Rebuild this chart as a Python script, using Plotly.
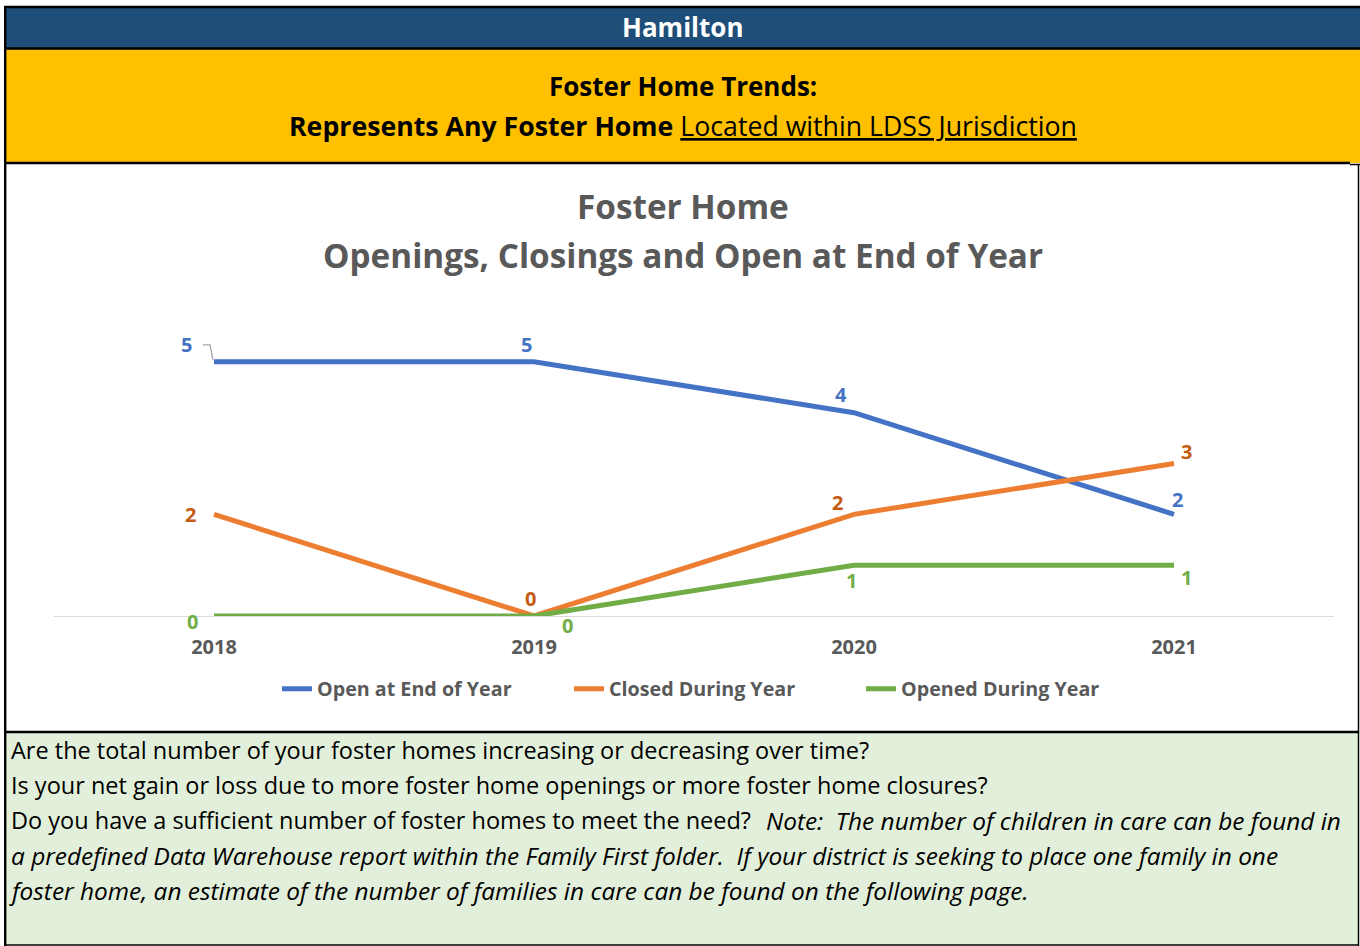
import plotly.graph_objects as go

W, H = 1360, 946

years = ["2018", "2019", "2020", "2021"]
open_end = [5, 5, 4, 2]
closed = [2, 0, 2, 3]
opened = [0, 0, 1, 1]

series_names = ["Open at End of Year", "Closed During Year", "Opened During Year"]
series_values = [open_end, closed, opened]
line_colors = ["#4472C4", "#ED7D31", "#70AD47"]
label_colors = ["#4472C4", "#C55A11", "#70AD47"]
# label offsets (pixels) per series / point
label_offsets = [
    [(-28, 17), (-8, 17), (-13, 18), (3, 15)],
    [(-24, 0), (-4, 18), (-17, 12), (12, 12)],
    [(-22, -5), (33, -9), (-3, -15), (12, -12)],
]

header_text = "Hamilton"
sub1 = "Foster Home Trends:"
sub2_bold = "Represents Any Foster Home"
sub2_under = "Located within LDSS Jurisdiction"
chart_title = ["Foster Home", "Openings, Closings and Open at End of Year"]
body_line1 = "Are the total number of your foster homes increasing or decreasing over time?"
body_line2 = "Is your net gain or loss due to more foster home openings or more foster home closures?"
body_line3a = "Do you have a sufficient number of foster homes to meet the need?"
body_line3b = "Note:&nbsp;&nbsp;The number of children in care can be found in"
body_line4 = "a predefined Data Warehouse report within the Family First folder.&nbsp;&nbsp;If your district is seeking to place one family in one"
body_line5 = "foster home, an estimate of the number of families in care can be found on the following page."

FONT = "Open Sans"
GRAY = "#595959"


def px(x):
    return x / W


def py(y):
    return 1 - y / H


fig = go.Figure()
for name, vals, c in zip(series_names, series_values, line_colors):
    fig.add_trace(go.Scatter(x=years, y=vals, mode="lines", name=name,
                             line=dict(color=c, width=5), hoverinfo="skip"))

shapes = []
shapes.append(dict(type="rect", xref="paper", yref="paper", x0=px(5), x1=px(1360), y0=py(48), y1=py(7),
                   fillcolor="#1F4E79", line=dict(width=0), layer="below"))
shapes.append(dict(type="rect", xref="paper", yref="paper", x0=px(5), x1=px(1360), y0=py(163), y1=py(48),
                   fillcolor="#FFC000", line=dict(width=0), layer="below"))
shapes.append(dict(type="rect", xref="paper", yref="paper", x0=px(5), x1=px(1358), y0=py(945), y1=py(732),
                   fillcolor="#E2EFDA", line=dict(width=0), layer="below"))
for y0, x0, x1, wdt in [(7, 4, 1360, 2.6), (48.5, 4, 1360, 2.6), (163, 4, 1350, 2.6), (732, 4, 1359, 2.6), (945, 4, 1359, 1.5)]:
    shapes.append(dict(type="line", xref="paper", yref="paper", x0=px(x0), x1=px(x1), y0=py(y0), y1=py(y0),
                       line=dict(color="black", width=wdt)))
shapes.append(dict(type="line", xref="paper", yref="paper", x0=px(1350), x1=px(1360), y0=py(164.5), y1=py(164.5),
                   line=dict(color="black", width=1.5)))
shapes.append(dict(type="line", xref="paper", yref="paper", x0=px(5.2), x1=px(5.2), y0=py(6), y1=py(946),
                   line=dict(color="black", width=2.4)))
shapes.append(dict(type="line", xref="paper", yref="paper", x0=px(1358.5), x1=px(1358.5), y0=py(164), y1=py(946),
                   line=dict(color="black", width=1.5)))
# leader line for first label
shapes.append(dict(type="path", xref="x", yref="y", xsizemode="pixel", ysizemode="pixel",
                   xanchor=0, yanchor=open_end[0], path="M -11,17 L -4,17 L -1,2",
                   line=dict(color="#A6A6A6", width=1.3)))

ann = []
ann.append(dict(text="<b>%s</b>" % header_text, x=0.5 + px(2), y=py(27), xref="paper", yref="paper",
                showarrow=False, font=dict(family=FONT, size=26, color="white"), xanchor="center", yanchor="middle"))
ann.append(dict(text="<b>%s</b>" % sub1, x=0.502, y=py(86), xref="paper", yref="paper",
                showarrow=False, font=dict(family=FONT, size=26, color="black"), xanchor="center", yanchor="middle"))
ann.append(dict(text="<b>%s</b> <u>%s</u>" % (sub2_bold, sub2_under), x=0.502, y=py(126), xref="paper", yref="paper",
                showarrow=False, font=dict(family=FONT, size=26.7, color="black"), xanchor="center", yanchor="middle"))
for t, yy in zip(chart_title, [206, 255]):
    ann.append(dict(text="<b>%s</b>" % t, x=0.502, y=py(yy), xref="paper", yref="paper",
                    showarrow=False, font=dict(family=FONT, size=33.3, color=GRAY), xanchor="center", yanchor="middle"))

body = [(body_line1, 9, 750, False), (body_line2, 9, 785, False), (body_line3a, 9, 820, False),
        (body_line3b, 764, 820, True), (body_line4, 9, 855, True), (body_line5, 7, 890, True)]
for text, x0, y0, ital in body:
    ann.append(dict(text=("<i>%s</i>" % text) if ital else text, x=px(x0), y=py(y0), xref="paper", yref="paper",
                    showarrow=False, font=dict(family=FONT, size=24.4 if ital else 23.5, color="black"),
                    xanchor="left", yanchor="middle"))
for vals, c, offs in zip(series_values, label_colors, label_offsets):
    for i, (v, (dx, dy)) in enumerate(zip(vals, offs)):
        ann.append(dict(text="<b>%d</b>" % v, x=i, y=v, xref="x", yref="y", xshift=dx, yshift=dy,
                        showarrow=False, font=dict(family=FONT, size=20, color=c), xanchor="center", yanchor="middle"))

fig.update_layout(
    width=W, height=H, margin=dict(l=0, r=0, t=0, b=0),
    paper_bgcolor="white", plot_bgcolor="rgba(0,0,0,0)",
    shapes=shapes, annotations=ann,
    xaxis=dict(domain=[px(54), px(1334)], range=[-0.5, 3.5], type="category",
               showgrid=False, zeroline=False, showline=False, ticks="",
               tickfont=dict(family=FONT, size=20, color=GRAY), ticklabelstandoff=17,
               tickprefix="<b>", ticksuffix="</b>"),
    yaxis=dict(domain=[py(616), py(311)], range=[0, 6], showgrid=False, zeroline=True,
               zerolinecolor="#D9D9D9", zerolinewidth=1.3, showticklabels=False, ticks=""),
    showlegend=True,
    legend=dict(orientation="h", x=px(277), xanchor="left", y=py(689), yanchor="middle",
                font=dict(family=FONT, size=19.7, color=GRAY, weight="bold"), entrywidth=247, entrywidthmode="pixels",
                bgcolor="rgba(0,0,0,0)"),
)

fig.write_html("out.html")
